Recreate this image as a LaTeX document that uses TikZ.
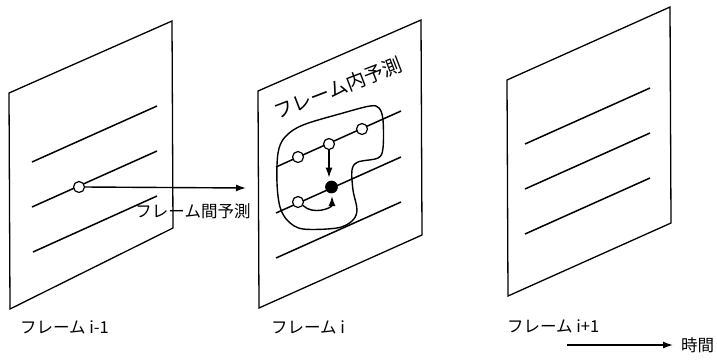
\documentclass[tikz,border=0pt]{standalone}
\usepackage{fontspec}
\setmainfont{Noto Sans CJK JP}
\usetikzlibrary{arrows.meta,calc}
\begin{document}
\begin{tikzpicture}[x=1pt,y=-1pt,
  frameline/.style={line width=1.3pt,line join=miter},
  scanline/.style={line width=1.5pt},
  pix/.style={circle,draw,fill=white,line width=1.2pt,minimum size=11pt,inner sep=0pt},
  pixfill/.style={circle,draw,fill=black,line width=1.2pt,minimum size=11.5pt,inner sep=0pt},
  arr/.style={line width=1.4pt,-{Latex[length=10pt,width=7pt]}},
  lbl/.style={font=\fontsize{16.5}{18}\selectfont,inner sep=0pt,anchor=west},
  blob/.style={line width=1.4pt}]
\useasboundingbox (0,0) rectangle (717,360);
% frame i-1
\draw[frameline] (9,93) -- (172,21) -- (173,228) -- (10,309) -- cycle;
\draw[scanline] (32,162) -- (157,106);
\draw[scanline] (32,207) -- (157,151);
\draw[scanline] (33,252) -- (157,196);
\node[pix] (c1) at (79,187) {};
% frame i
\draw[frameline] (258,91) -- (421,20) -- (422,235) -- (259,308) -- cycle;
\draw[scanline] (276,167) -- (401,111);
\draw[scanline] (276,213) -- (401,157);
\draw[scanline] (276,258) -- (401,202);
\draw[blob] plot[smooth cycle,tension=0.55] coordinates {
 (285,137) (303,125) (343,113) (370,106) (379,108) (383,120) (383,148)
 (378,158) (358,162) (352,170) (353,190) (357,210) (352,221) (337,228)
 (303,229) (288,221) (280,207) (277,183) (278,153)};
\node[pix] (b1) at (298,157) {};
\node[pix] (b2) at (329,144) {};
\node[pix] (b3) at (362,129) {};
\node[pix] (b4) at (298,202) {};
\node[pixfill] (f) at (331.5,187) {};
\draw[arr,shorten >=3pt] (b2) -- (b2 |- f.north);
\coordinate (ftip) at (332,196);
\draw[arr] (b4.-35) .. controls +(10,10) and +(0,12) .. (ftip);
\node[font=\fontsize{19.5}{21}\selectfont,rotate=21,inner sep=0pt] (intra) at (338,88) {フレーム内予測};
% frame i+1
\draw[frameline] (507,80) -- (670,7) -- (671,223) -- (508,296) -- cycle;
\draw[scanline] (525,144) -- (650,88);
\draw[scanline] (525,189) -- (650,133);
\draw[scanline] (525,234) -- (650,178);
% inter-frame arrow
\coordinate (interend) at (246,188);
\draw[arr] (c1.east) -- (interend);
\node[lbl,anchor=center] (inter) at (193,211) {フレーム間予測};
% labels
\node[lbl] (l1) at (20,327) {フレーム i-1};
\node[lbl] (l2) at (271,327) {フレーム i};
\node[lbl] (l3) at (507,326) {フレーム i+1};
\node[lbl] (time) at (681,345) {時間};
\coordinate (tstart) at (567,345);
\draw[arr,shorten >=8pt] (tstart) -- (time.west);
\end{tikzpicture}
\end{document}
